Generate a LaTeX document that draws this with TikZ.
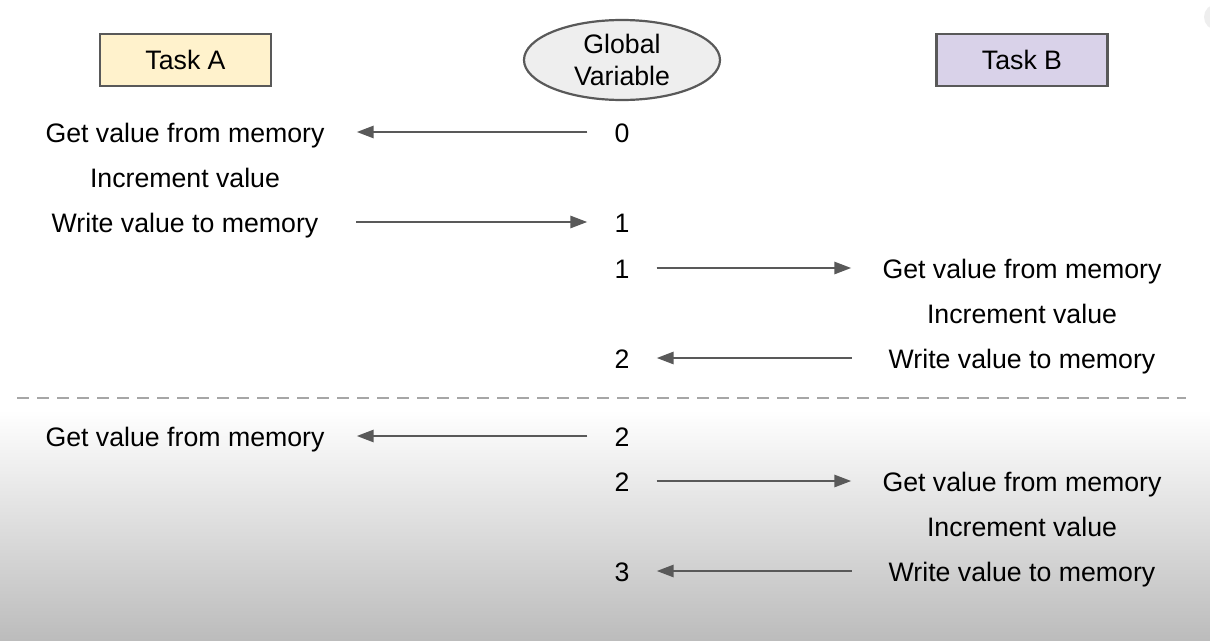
\documentclass[tikz,border=0pt]{standalone}
\usepackage{fontspec}
\setmainfont{Liberation Sans}
\usetikzlibrary{arrows.meta,shapes.geometric}
\definecolor{edge}{HTML}{595959}
\definecolor{taskA}{HTML}{FFF2CC}
\definecolor{taskB}{HTML}{D9D2E9}
\definecolor{glob}{HTML}{EEEEEE}
\definecolor{dash}{HTML}{A6A6A6}
\definecolor{bottomgray}{HTML}{BCBCBC}
\tikzset{
  txt/.style={inner sep=0pt, anchor=base, font=\fontsize{26.7}{30}\selectfont, text=black},
  taskbox/.style={draw=edge, line width=2.2pt, minimum width=171pt, minimum height=52pt, inner sep=0pt, font=\fontsize{26.7}{30}\selectfont},
  globnode/.style={ellipse, draw=edge, line width=2.2pt, fill=glob, minimum width=196pt, minimum height=80pt, inner sep=0pt, align=center, font=\fontsize{26.7}{32.5}\selectfont},
  flow/.style={draw=edge, line width=2.8pt, -{Triangle[length=17pt,width=12pt]}},
  divider/.style={draw=dash, line width=2.5pt, dash pattern=on 12pt off 8pt}
}
\begin{document}
\begin{tikzpicture}[x=1pt,y=-1pt]
\useasboundingbox (0,0) rectangle (1210,640);
\fill[white] (0,0) rectangle (1210,640);
\shade[top color=white, bottom color=bottomgray] (0,410) rectangle (1210,640);
\begin{scope}
\clip (0,0) rectangle (1210,640);
\fill[glob] (1217,17) circle (13);
\end{scope}

% headers
\node[taskbox, fill=taskA] (ta) at (185.5,60) {Task A};
\node[globnode] (gv) at (622,60) {Global\\Variable};
\node[taskbox, fill=taskB] (tb) at (1022,60) {Task B};

% rows upper section (baselines)
\node[txt] (a1) at (185,142) {Get value from memory};
\node[txt] (a2) at (185,187) {Increment value};
\node[txt] (a3) at (185,232) {Write value to memory};
\node[txt] (v0) at (622,142) {0};
\node[txt] (v1) at (622,232) {1};
\node[txt] (v2) at (622,278) {1};
\node[txt] (v3) at (622,368) {2};
\node[txt] (b1) at (1022,278) {Get value from memory};
\node[txt] (b2) at (1022,323) {Increment value};
\node[txt] (b3) at (1022,368) {Write value to memory};

% divider
\coordinate (dl) at (17,398);
\coordinate (dr) at (1186,398);
\draw[divider] (dl) -- (dr);

% rows lower section (baselines)
\node[txt] (a4) at (185,446) {Get value from memory};
\node[txt] (v4) at (622,446) {2};
\node[txt] (v5) at (622,491) {2};
\node[txt] (v6) at (622,581) {3};
\node[txt] (b4) at (1022,491) {Get value from memory};
\node[txt] (b5) at (1022,536) {Increment value};
\node[txt] (b6) at (1022,581) {Write value to memory};

% arrows (at the text's middle height)
\draw[flow] ([xshift=-27pt,yshift=10pt]v0.base west) -- ([xshift=32pt,yshift=10pt]a1.base east);
\draw[flow] ([xshift=38pt,yshift=10pt]a3.base east) -- ([xshift=-27pt,yshift=10pt]v1.base west);
\draw[flow] ([xshift=27pt,yshift=10pt]v2.base east) -- ([xshift=-31pt,yshift=10pt]b1.base west);
\draw[flow] ([xshift=-37pt,yshift=10pt]b3.base west) -- ([xshift=27pt,yshift=10pt]v3.base east);
\draw[flow] ([xshift=-27pt,yshift=10pt]v4.base west) -- ([xshift=32pt,yshift=10pt]a4.base east);
\draw[flow] ([xshift=27pt,yshift=10pt]v5.base east) -- ([xshift=-31pt,yshift=10pt]b4.base west);
\draw[flow] ([xshift=-37pt,yshift=10pt]b6.base west) -- ([xshift=27pt,yshift=10pt]v6.base east);
\end{tikzpicture}
\end{document}
